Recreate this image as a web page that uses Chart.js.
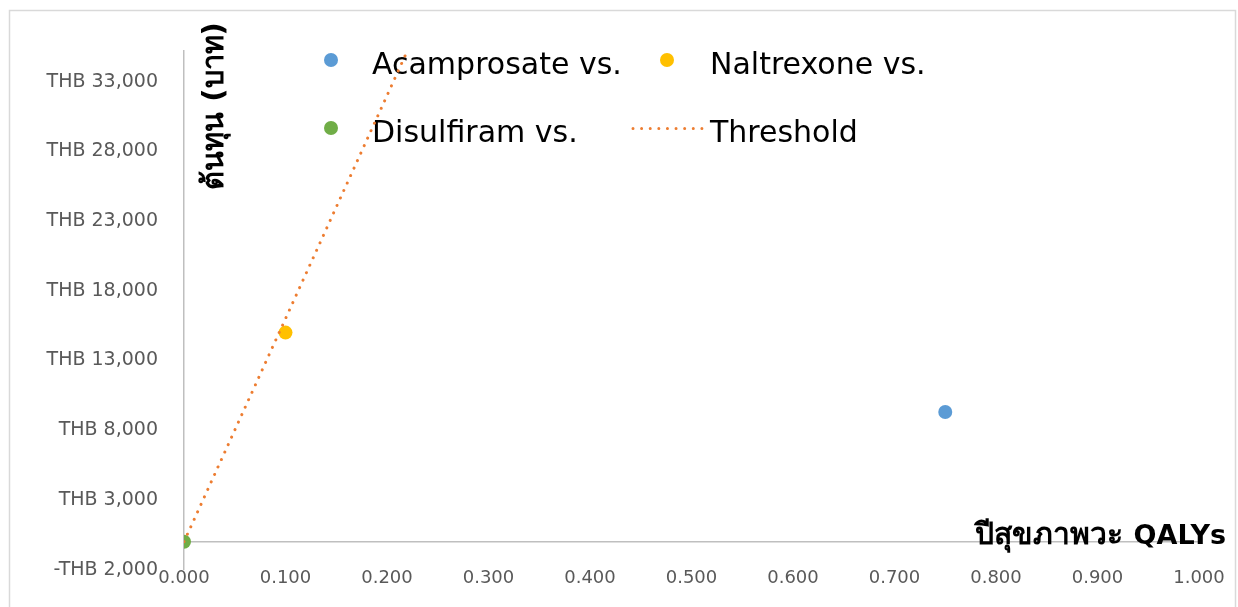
<!DOCTYPE html>
<html>
<head>
<meta charset="utf-8">
<script src="https://cdn.jsdelivr.net/npm/chart.js@4/dist/chart.umd.min.js"></script>
<style>
html,body{margin:0;padding:0;background:#fff;overflow:hidden}
canvas{display:block}
</style>
</head>
<body>
<canvas id="c" width="1238" height="607"></canvas>
<script>
// ---- data ----
const seriesLabels = ['Acamprosate vs.', 'Naltrexone vs.', 'Disulfiram vs.'];
const qalyGain = [0.75, 0.10, 0.00];
const costDiff = [9300, 15000, 0];
const thresholdLabel = 'Threshold';
const thresholdQaly = [0, 0.22];
const thresholdCost = [0, 35200];
const xTicks = [0, 0.1, 0.2, 0.3, 0.4, 0.5, 0.6, 0.7, 0.8, 0.9, 1.0];
const yTicks = [-2000, 3000, 8000, 13000, 18000, 23000, 28000, 33000];
const xTitle = 'ปีสุขภาพวะ QALYs';
const yTitle = 'ต้นทุน (บาท)';

// ---- styles ----
const seriesColors = ['#5B9BD5', '#FFC000', '#70AD47'];
const thresholdColor = '#ED7D31';
const FONT = "'DejaVu Sans', 'Noto Sans', sans-serif";

const datasets = [];
datasets.push({
  label: thresholdLabel,
  data: thresholdQaly.map((x, i) => ({x: x, y: thresholdCost[i]})),
  showLine: true,
  borderColor: thresholdColor,
  backgroundColor: thresholdColor,
  borderWidth: 3,
  borderDash: [0.01, 8.2],
  borderCapStyle: 'round',
  pointRadius: 0,
  pointHoverRadius: 0,
  fill: false,
  order: 0
});
seriesLabels.forEach((lab, i) => {
  datasets.push({
    label: lab,
    data: [{x: qalyGain[i], y: costDiff[i]}],
    backgroundColor: seriesColors[i],
    borderColor: seriesColors[i],
    pointRadius: 7,
    pointBorderWidth: 0,
    order: 1
  });
});

const framePlugin = {
  id: 'frame',
  beforeDraw(chart) {
    const ctx = chart.ctx;
    ctx.save();
    ctx.fillStyle = '#fff';
    ctx.fillRect(0, 0, chart.width, chart.height);
    ctx.strokeStyle = '#d9d9d9';
    ctx.lineWidth = 1.5;
    ctx.strokeRect(9.5, 10.5, 1226, 610);
    ctx.restore();
  }
};

const legendPlugin = {
  id: 'customLegend',
  beforeDatasetsDraw(chart) {
    const ctx = chart.ctx;
    const ds = chart.data.datasets;
    const entries = [ds[1], ds[2], ds[3], ds[0]];
    const slots = [
      {mx: 331, my: 60, tx: 372, ty: 74},
      {mx: 667, my: 60, tx: 710, ty: 74},
      {mx: 331, my: 128, tx: 372, ty: 142},
      {mx: 667, my: 128.5, tx: 710, ty: 142}
    ];
    ctx.save();
    ctx.font = '30px ' + FONT;
    ctx.textBaseline = 'alphabetic';
    ctx.textAlign = 'left';
    entries.forEach((d, i) => {
      const s = slots[i];
      if (d.showLine) {
        ctx.save();
        ctx.strokeStyle = d.borderColor;
        ctx.lineWidth = d.borderWidth;
        ctx.lineCap = 'round';
        ctx.setLineDash([0.01, 8.6]);
        ctx.beginPath();
        ctx.moveTo(s.mx - 34, s.my);
        ctx.lineTo(s.mx + 36, s.my);
        ctx.stroke();
        ctx.restore();
      } else {
        ctx.beginPath();
        ctx.fillStyle = d.backgroundColor;
        ctx.arc(s.mx, s.my, 7, 0, Math.PI * 2);
        ctx.fill();
      }
      ctx.fillStyle = '#000';
      ctx.fillText(d.label, s.tx, s.ty);
    });
    ctx.restore();
  }
};

const titlePlugin = {
  id: 'titles',
  afterDraw(chart) {
    const ctx = chart.ctx;
    ctx.save();
    ctx.fillStyle = '#000';
    ctx.textBaseline = 'alphabetic';
    // x title: Thai part and Latin part drawn as real text, right-aligned
    const cut = xTitle.lastIndexOf(' ');
    const thaiPart = xTitle.slice(0, cut + 1);
    const latinPart = xTitle.slice(cut + 1);
    ctx.textAlign = 'right';
    ctx.font = 'bold 27px ' + FONT;
    ctx.fillText(latinPart, 1226, 544);
    const lw = ctx.measureText(latinPart).width;
    ctx.font = 'bold 30px ' + FONT;
    ctx.fillText(thaiPart, 1226 - lw, 544);
    // y title
    ctx.translate(215, 106);
    ctx.rotate(-Math.PI / 2);
    ctx.textAlign = 'center';
    ctx.textBaseline = 'middle';
    ctx.font = 'bold 29px ' + FONT;
    ctx.fillText(yTitle, 0, 0);
    ctx.restore();
  }
};

new Chart(document.getElementById('c'), {
  type: 'scatter',
  data: {datasets: datasets},
  options: {
    responsive: false,
    animation: false,
    layout: {padding: {left: 0, right: 39, top: 51, bottom: 0}},
    plugins: {legend: {display: false}, tooltip: {enabled: false}},
    scales: {
      x: {
        type: 'linear', position: 'bottom', min: 0, max: 1,
        afterBuildTicks: s => { s.ticks = xTicks.map(v => ({value: v})); },
        afterFit: s => { s.height = 36; },
        grid: {display: false, drawTicks: false},
        border: {display: false},
        ticks: {
          padding: -2, color: '#595959', autoSkip: false, maxRotation: 0,
          font: {family: FONT, size: 18},
          callback: v => Number(v).toFixed(3)
        }
      },
      x0: {
        type: 'linear', axis: 'x', position: {y: 0}, min: 0, max: 1,
        grid: {display: false, drawTicks: false},
        ticks: {display: false},
        border: {display: true, color: '#bfbfbf', width: 1.5}
      },
      y: {
        type: 'linear', position: 'left', min: -2000, max: 35200,
        afterBuildTicks: s => { s.ticks = yTicks.map(v => ({value: v})); },
        afterFit: s => { s.width = 184; },
        grid: {display: false, drawTicks: false},
        border: {display: true, color: '#bfbfbf', width: 1.5},
        ticks: {
          padding: 26, color: '#595959', autoSkip: false,
          font: {family: FONT, size: 19},
          callback: v => (v < 0 ? '-' : '') + 'THB ' + Math.abs(v).toLocaleString('en-US')
        }
      }
    }
  },
  plugins: [framePlugin, legendPlugin, titlePlugin]
});
</script>
</body>
</html>
